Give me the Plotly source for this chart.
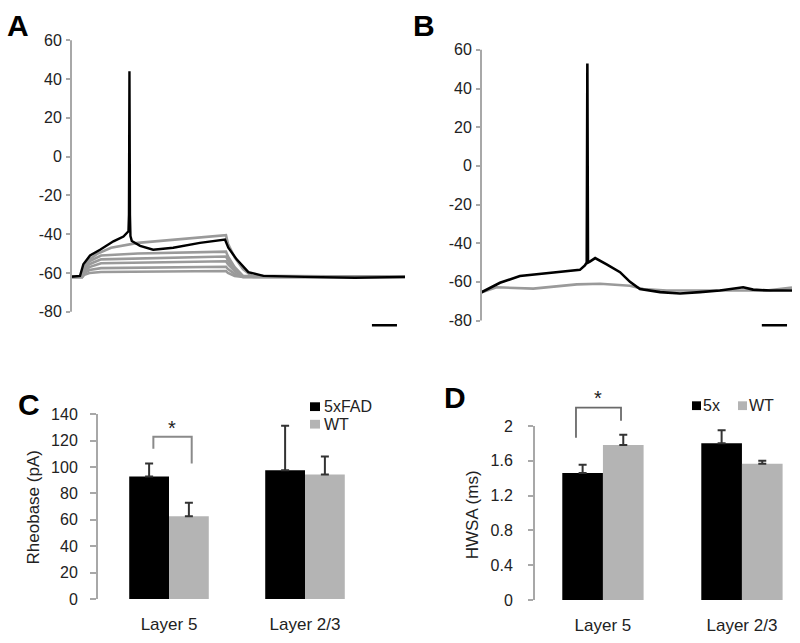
import plotly.graph_objects as go

W, H = 800, 643

# ---------------- DATA ----------------
# Panel A (time in ms, membrane potential in mV)
tA_black = [0, 27, 37, 57, 87, 127, 157, 172, 173.5, 175, 176.5, 178, 182, 207, 246, 306, 386, 461, 471, 496, 531, 576, 700, 850, 1000]
vA_black = [-62, -61.5, -55.5, -51, -48, -43.7, -41.2, -38.5, -30, 44, -30, -41, -43.5, -46, -48, -47, -44.5, -42.8, -47, -53, -59.6, -61.5, -62, -62.5, -62]

tA_gray1 = [0, 33, 40, 55, 80, 120, 200, 300, 464, 470, 490, 515, 545, 1000]
vA_gray1 = [-62, -62, -57, -53, -50, -47, -44.5, -43, -40.5, -45, -52, -58, -62, -62]
tA_gray = [0, 33, 40, 55, 90, 200, 464, 470, 490, 515, 1000]
vA_gray2 = [-62, -62, -57, -54, -51, -50, -49, -51.5, -57, -61.5, -62]
vA_gray3 = [-62, -62, -58, -55.5, -53, -52.5, -51.5, -53.5, -58, -61.8, -62]
vA_gray4 = [-62, -62, -59, -57, -55, -54.8, -54, -55.5, -59, -62, -62]
vA_gray5 = [-62, -62, -60, -58.5, -57.5, -57.2, -56.8, -58, -60.5, -62, -62]
vA_gray6 = [-62, -62, -61, -60, -59.5, -59.3, -59, -60, -61.5, -62, -62]

# Panel B
tB_black = [0, 61, 125, 222, 318, 334, 340, 342, 344, 350, 367, 404, 447, 479, 511, 576, 640, 704, 768, 843, 875, 930, 1000]
vB_black = [-65.5, -60.5, -57, -55.3, -53.8, -51.5, -50, 53, -50, -49.5, -47.7, -51, -55, -60, -63.7, -65.3, -66, -65.3, -64.5, -62.8, -64, -64.5, -64.5]
tB_gray = [0, 50, 168, 308, 383, 479, 522, 597, 918, 1000]
vB_gray = [-65.5, -62.8, -63.5, -61.3, -61, -62, -63.7, -64.5, -64.5, -63]

voltage_ticks = [-80, -60, -40, -20, 0, 20, 40, 60]
voltage_ticklabels = ["-80", "-60", "-40", "-20", "0", "20", "40", "60"]

# Panels C and D
layers = ["Layer 5", "Layer 2/3"]
rheo_5xfad = [92.8, 97.6]
rheo_5xfad_err = [9.9, 33.7]
rheo_wt = [62.7, 94.4]
rheo_wt_err = [10.3, 13.6]
rheo_ticks = [0, 20, 40, 60, 80, 100, 120, 140]

hwsa_5x = [1.46, 1.80]
hwsa_5x_err = [0.095, 0.15]
hwsa_wt = [1.78, 1.566]
hwsa_wt_err = [0.12, 0.035]
hwsa_ticks = [0, 0.4, 0.8, 1.2, 1.6, 2]
hwsa_ticklabels = ["0", "0.4", "0.8", "1.2", "1.6", "2"]

# ---------------- STYLE ----------------
FONT = "Liberation Sans, Arial, sans-serif"
BLACK = "#000000"
TRACE_GRAY = "#9a9a9a"
BAR_GRAY = "#b4b4b4"
AXIS_GRAY = "#a8a8a8"
ERR_COLOR = "#333333"
TXT = "#222222"


def px_x(p):
    return p / W


def px_y(p):
    return 1 - p / H


fig = go.Figure()

# Panel A traces
for tt, vv in [(tA_gray1, vA_gray1), (tA_gray, vA_gray2), (tA_gray, vA_gray3),
               (tA_gray, vA_gray4), (tA_gray, vA_gray5), (tA_gray, vA_gray6)]:
    fig.add_trace(go.Scatter(x=tt, y=vv, mode="lines", line=dict(color=TRACE_GRAY, width=2.6),
                             xaxis="x", yaxis="y", showlegend=False, hoverinfo="skip"))
fig.add_trace(go.Scatter(x=tA_black, y=vA_black, mode="lines", line=dict(color=BLACK, width=2.4),
                         xaxis="x", yaxis="y", showlegend=False))

# Panel B traces
fig.add_trace(go.Scatter(x=tB_gray, y=vB_gray, mode="lines", line=dict(color=TRACE_GRAY, width=2.6),
                         xaxis="x2", yaxis="y2", showlegend=False))
fig.add_trace(go.Scatter(x=tB_black, y=vB_black, mode="lines", line=dict(color=BLACK, width=2.6),
                         xaxis="x2", yaxis="y2", showlegend=False))

# Panel C bars
fig.add_trace(go.Bar(x=layers, y=rheo_5xfad, name="5xFAD", marker=dict(color=BLACK, line=dict(width=0)),
                     error_y=dict(type="data", symmetric=False, array=rheo_5xfad_err, arrayminus=[0, 0],
                                  color=ERR_COLOR, thickness=2, width=4),
                     xaxis="x3", yaxis="y3", showlegend=False))
fig.add_trace(go.Bar(x=layers, y=rheo_wt, name="WT", marker=dict(color=BAR_GRAY, line=dict(width=0)),
                     error_y=dict(type="data", symmetric=False, array=rheo_wt_err, arrayminus=[0, 0],
                                  color=ERR_COLOR, thickness=2, width=4),
                     xaxis="x3", yaxis="y3", showlegend=False))

# Panel D bars
fig.add_trace(go.Bar(x=layers, y=hwsa_5x, name="5x", marker=dict(color=BLACK, line=dict(width=0)),
                     error_y=dict(type="data", symmetric=False, array=hwsa_5x_err, arrayminus=[0, 0],
                                  color=ERR_COLOR, thickness=2, width=4),
                     xaxis="x4", yaxis="y4", showlegend=False))
fig.add_trace(go.Bar(x=layers, y=hwsa_wt, name="WT", marker=dict(color=BAR_GRAY, line=dict(width=0)),
                     error_y=dict(type="data", symmetric=False, array=hwsa_wt_err, arrayminus=[0, 0],
                                  color=ERR_COLOR, thickness=2, width=4),
                     xaxis="x4", yaxis="y4", showlegend=False))

# ---------------- AXES ----------------
hidden_x = dict(showline=False, showgrid=False, zeroline=False, showticklabels=False, ticks="")

# A: 60 -> px 33, -80 -> px 312
a_ppu = (312 - 33) / 140
a_rng = [-90, 62]
a_dom = [px_y(312 + (-80 - a_rng[0]) * a_ppu), px_y(33 - (a_rng[1] - 60) * a_ppu)]
# B: 60 -> px 43, -80 -> px 321
b_ppu = (321 - 43) / 140
b_dom = [px_y(321 + (-80 - a_rng[0]) * b_ppu), px_y(43 - (a_rng[1] - 60) * b_ppu)]

volt_y = dict(range=a_rng, showline=False, showgrid=False, zeroline=False, ticks="outside",
              ticklen=4, tickwidth=1.5, tickcolor=AXIS_GRAY, tickvals=voltage_ticks,
              ticktext=voltage_ticklabels, ticklabelstandoff=1,
              tickfont=dict(family=FONT, size=16, color=TXT))

# D: extended range so bracket fits
d_ppu = (608 - 429.3) / 2
d_rng = [0, 2.3]

C_AX = 98

fig.update_layout(
    width=W, height=H, autosize=False,
    margin=dict(l=0, r=0, t=0, b=0),
    paper_bgcolor="white", plot_bgcolor="white",
    barmode="group", bargap=0.415, bargroupgap=0,
    font=dict(family=FONT, color=TXT),
    xaxis=dict(domain=[px_x(71), px_x(405)], range=[0, 1000], anchor="y", **hidden_x),
    yaxis=dict(domain=a_dom, anchor="x", **volt_y),
    xaxis2=dict(domain=[px_x(481), px_x(792)], range=[0, 1000], anchor="y2", **hidden_x),
    yaxis2=dict(domain=b_dom, anchor="x2", **volt_y),
    xaxis3=dict(domain=[px_x(C_AX), px_x(C_AX + (1.45 + (169 - C_AX) / 136) * 136)],
                range=[-(169 - C_AX) / 136, 1.45], anchor="y3",
                showline=False, showgrid=False, zeroline=False, ticks="outside", ticklen=10,
                tickcolor="rgba(0,0,0,0)", tickfont=dict(family=FONT, size=17, color=TXT)),
    yaxis3=dict(domain=[px_y(607), px_y(417.3)], range=[0, 140], anchor="x3",
                showline=True, linecolor=AXIS_GRAY, linewidth=2, showgrid=False, zeroline=False,
                ticks="outside", ticklen=6, tickwidth=1.5, tickcolor=AXIS_GRAY, tickvals=rheo_ticks,
                ticklabelstandoff=9,
                tickfont=dict(family=FONT, size=16, color=TXT)),
    xaxis4=dict(domain=[px_x(534), px_x(534 + 1.896 * 139)], range=[-0.496, 1.4], anchor="y4",
                showline=False, showgrid=False, zeroline=False, ticks="outside", ticklen=10,
                tickcolor="rgba(0,0,0,0)", tickfont=dict(family=FONT, size=17, color=TXT)),
    yaxis4=dict(domain=[px_y(608), px_y(429.3 - 0.3 * d_ppu)], range=d_rng, anchor="x4",
                showline=False, showgrid=False, zeroline=False,
                ticks="outside", ticklen=5, tickwidth=1.5, tickcolor=AXIS_GRAY,
                tickvals=hwsa_ticks, ticktext=hwsa_ticklabels, ticklabelstandoff=12,
                tickfont=dict(family=FONT, size=16, color=TXT)),
)

shapes = []
# axis lines for A, B, D (drawn only over the ticked span)
for xr, yr, y0, y1 in [("x domain", "y", -80, 60), ("x2 domain", "y2", -80, 60), ("x4 domain", "y4", 0, 2)]:
    shapes.append(dict(type="line", xref=xr, yref=yr, x0=0, x1=0, y0=y0, y1=y1,
                       line=dict(color=AXIS_GRAY, width=2), layer="above"))
# scale bars
shapes.append(dict(type="line", xref="x", yref="y", x0=901, x1=976, y0=-87, y1=-87,
                   line=dict(color=BLACK, width=2.5)))
shapes.append(dict(type="line", xref="x2", yref="y2", x0=903, x1=984, y0=-82.5, y1=-82.5,
                   line=dict(color=BLACK, width=2.5)))
# significance brackets
shapes.append(dict(type="path", xref="x3", yref="y3",
                   path="M -0.115,113.8 L -0.115,123 L 0.167,123 L 0.167,102.7",
                   line=dict(color="#8a8a8a", width=2)))
shapes.append(dict(type="path", xref="x4", yref="y4",
                   path="M -0.194,1.865 L -0.194,2.21 L 0.13,2.21 L 0.13,2.06",
                   line=dict(color="#6a6a6a", width=1.8)))
# legend swatches (panel C and D)
for (x0, y0, x1, y1, c) in [(310, 405, 320, 414, BLACK), (310, 423, 320, 432, BAR_GRAY),
                            (692, 404, 701, 413, BLACK), (738, 404, 747, 413, BAR_GRAY)]:
    shapes.append(dict(type="rect", xref="paper", yref="paper", x0=px_x(x0), x1=px_x(x1),
                       y0=px_y(y1), y1=px_y(y0), fillcolor=c, line=dict(width=0)))
fig.update_layout(shapes=shapes)

ann = []
for txt, cx, cy in [("A", 18, 18), ("B", 424, 18), ("C", 29, 407), ("D", 455, 400)]:
    ann.append(dict(text="<b>%s</b>" % txt, x=px_x(cx), y=px_y(cy), xref="paper", yref="paper",
                    xanchor="center", yanchor="middle", showarrow=False,
                    font=dict(family=FONT, size=30, color=BLACK)))
# stars
ann.append(dict(text="*", x=px_x(172), y=px_y(431), xref="paper", yref="paper", showarrow=False,
                xanchor="center", yanchor="middle", font=dict(family=FONT, size=20, color=TXT)))
ann.append(dict(text="*", x=px_x(598), y=px_y(401), xref="paper", yref="paper", showarrow=False,
                xanchor="center", yanchor="middle", font=dict(family=FONT, size=20, color=TXT)))
# legend texts
for txt, lx, ly in [("5xFAD", 322, 409), ("WT", 322, 428), ("5x", 701, 408), ("WT", 747, 408)]:
    ann.append(dict(text=txt, x=px_x(lx), y=px_y(ly), xref="paper", yref="paper", showarrow=False,
                    xanchor="left", yanchor="middle", font=dict(family=FONT, size=16, color=TXT)))
# y-axis titles
ann.append(dict(text="Rheobase (pA)", x=px_x(33), y=px_y(513), xref="paper", yref="paper",
                showarrow=False, textangle=-90, xanchor="center", yanchor="middle",
                font=dict(family=FONT, size=17, color=TXT)))
ann.append(dict(text="HWSA (ms)", x=px_x(472), y=px_y(521), xref="paper", yref="paper",
                showarrow=False, textangle=-90, xanchor="center", yanchor="middle",
                font=dict(family=FONT, size=17, color=TXT)))
fig.update_layout(annotations=ann)

fig.write_html("out.html", config={"displayModeBar": False},
               post_script="document.body.style.margin='0';")
